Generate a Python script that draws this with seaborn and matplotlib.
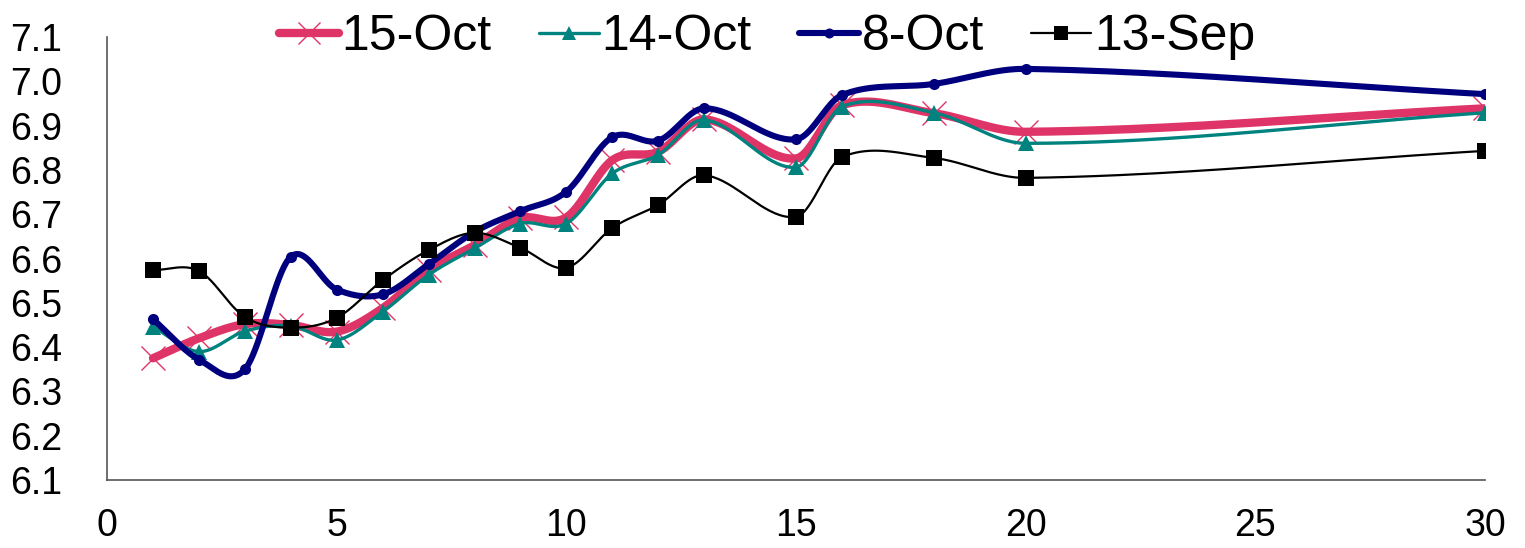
import numpy as np
import pandas as pd
import matplotlib
matplotlib.use("Agg")
import matplotlib.pyplot as plt
from matplotlib.lines import Line2D
import seaborn as sns

# sampling day on the x axis
days = [1, 2, 3, 4, 5, 6, 7, 8, 9, 10, 11, 12, 13, 15, 16, 18, 20, 30]

oct15 = [6.375, 6.420, 6.452, 6.450, 6.435, 6.488, 6.574, 6.630, 6.691, 6.693,
         6.822, 6.841, 6.914, 6.826, 6.946, 6.928, 6.886, 6.939]
oct14 = [6.446, 6.390, 6.436, 6.448, 6.416, 6.480, 6.563, 6.623, 6.679, 6.679,
         6.792, 6.834, 6.913, 6.806, 6.943, 6.929, 6.860, 6.929]
oct8 = [6.463, 6.372, 6.350, 6.604, 6.530, 6.519, 6.587, 6.660, 6.707, 6.751,
        6.874, 6.866, 6.939, 6.869, 6.969, 6.994, 7.028, 6.971]
sep13 = [6.574, 6.572, 6.468, 6.444, 6.466, 6.551, 6.619, 6.658, 6.624, 6.579,
         6.669, 6.721, 6.788, 6.694, 6.829, 6.827, 6.782, 6.843]

series_names = ["15-Oct", "14-Oct", "8-Oct", "13-Sep"]
series_vals = [oct15, oct14, oct8, sep13]

# style per series: color, line width, marker, marker size, marker edge width
styles = {
    "15-Oct": dict(color="#DE3467", lw=6.0, marker="x", ms=17, mew=1.0),
    "14-Oct": dict(color="#00827F", lw=2.4, marker="^", ms=11, mew=0),
    "8-Oct": dict(color="#00007F", lw=4.4, marker="o", ms=8, mew=0),
    "13-Sep": dict(color="#000000", lw=1.6, marker="s", ms=11, mew=0),
}


def smooth_curve(x, y, n=40):
    """Smoothed line through the points (cubic Hermite, centred-difference slopes)."""
    x = np.asarray(x, float)
    y = np.asarray(y, float)
    m = np.empty_like(y)
    m[1:-1] = (y[2:] - y[:-2]) / (x[2:] - x[:-2])
    m[0] = (y[1] - y[0]) / (x[1] - x[0])
    m[-1] = (y[-1] - y[-2]) / (x[-1] - x[-2])
    xs, ys = [], []
    for i in range(len(x) - 1):
        h = x[i + 1] - x[i]
        t = np.linspace(0, 1, n)
        h00 = 2 * t**3 - 3 * t**2 + 1
        h10 = t**3 - 2 * t**2 + t
        h01 = -2 * t**3 + 3 * t**2
        h11 = t**3 - t**2
        xs.append(x[i] + t * h)
        ys.append(h00 * y[i] + h10 * h * m[i] + h01 * y[i + 1] + h11 * h * m[i + 1])
    return np.concatenate(xs), np.concatenate(ys)


sns.set_theme(style="white")
plt.rcParams["font.family"] = ["Liberation Sans", "DejaVu Sans"]
plt.rcParams["text.color"] = "black"
plt.rcParams["xtick.color"] = "black"
plt.rcParams["ytick.color"] = "black"

fig = plt.figure(figsize=(15.25, 5.48), dpi=100)
ax = fig.add_axes([0.0702, 0.124, 0.9036, 0.8085])

handles = []
for name, vals in zip(series_names, series_vals):
    st = styles[name]
    cx, cy = smooth_curve(days, vals)
    sm = pd.DataFrame({"x": cx, "y": cy})
    sns.lineplot(data=sm, x="x", y="y", sort=False, estimator=None,
                 color=st["color"], lw=st["lw"], ax=ax)
    ax.plot(days, vals, linestyle="none", marker=st["marker"], ms=st["ms"],
            mew=st["mew"], color=st["color"], mec=st["color"])
    handles.append(Line2D([0], [0], color=st["color"], lw=st["lw"],
                          marker=st["marker"], ms=st["ms"] * 0.9,
                          mew=st["mew"], mec=st["color"]))

ax.set_xlim(0, 30)
ax.set_ylim(6.1, 7.1)
ax.set_xticks([0, 5, 10, 15, 20, 25, 30])
ax.set_yticks(np.round(np.arange(6.1, 7.11, 0.1), 1))
ax.set_yticklabels([f"{v:.1f}" for v in np.arange(6.1, 7.11, 0.1)])
ax.set_xlabel("")
ax.set_ylabel("")
ax.tick_params(axis="x", labelsize=27, pad=20, length=0)
ax.tick_params(axis="y", labelsize=27, pad=32, length=0)
for side in ["top", "right"]:
    ax.spines[side].set_visible(False)
for side in ["left", "bottom"]:
    ax.spines[side].set_color("#555555")
    ax.spines[side].set_linewidth(1.2)

fig.legend(handles, series_names, loc="center", bbox_to_anchor=(0.503, 0.932),
           ncol=4, frameon=False, fontsize=36, handlelength=1.2,
           handletextpad=0.05, columnspacing=0.95)

fig.savefig("out.png", dpi=100)
